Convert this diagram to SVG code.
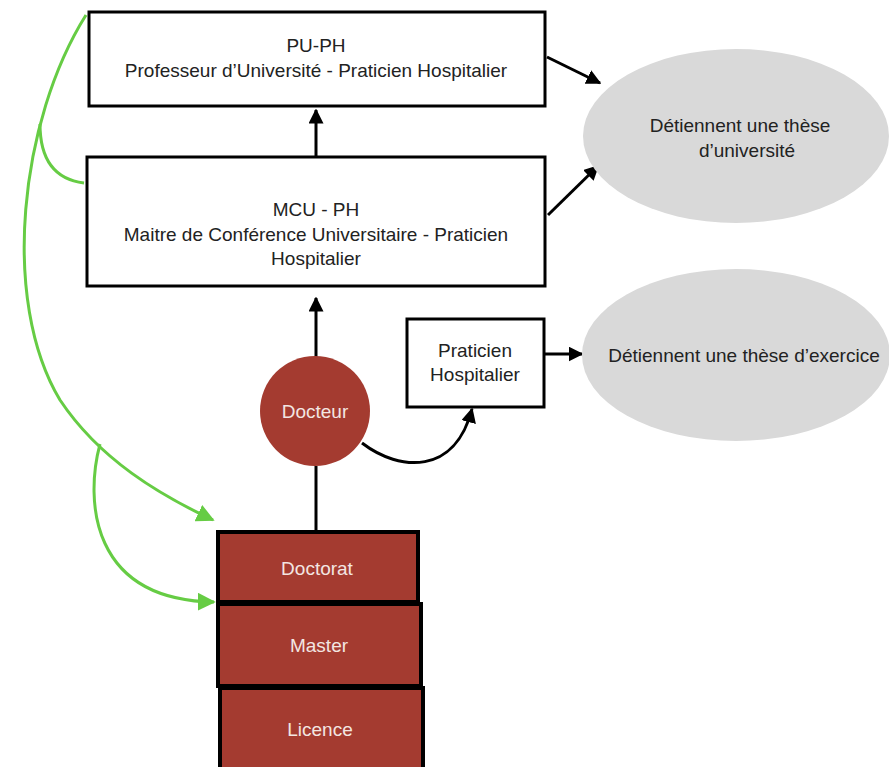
<svg xmlns="http://www.w3.org/2000/svg" width="889" height="767" viewBox="0 0 889 767">
<defs>
<marker id="ab" viewBox="0 0 10 10" refX="9" refY="5" markerWidth="5" markerHeight="5" orient="auto" markerUnits="strokeWidth"><path d="M0,0 L10,5 L0,10 z" fill="#000"/></marker>
<marker id="ag" viewBox="0 0 10 10" refX="9" refY="5" markerWidth="6" markerHeight="6" orient="auto" markerUnits="strokeWidth"><path d="M0,0 L10,5 L0,10 z" fill="#66cc44"/></marker>
<style>
.box{fill:#fff;stroke:#000;stroke-width:3}
.red{fill:#a43b30;stroke:#000;stroke-width:4}
.ell{fill:#d9d9d9}
.t{font-family:"Liberation Sans",Arial,sans-serif;font-size:19px;fill:#222;text-anchor:middle}
.w{font-family:"Liberation Sans",Arial,sans-serif;font-size:19px;fill:#f3e6e2;text-anchor:middle}
.c{fill:none;stroke:#000;stroke-width:3}
.g{fill:none;stroke:#66cc44;stroke-width:3}
</style>
</defs>
<rect width="889" height="767" fill="#fff"/>
<g id="connectors">
<path class="c" d="M316 157 L316 110" marker-end="url(#ab)"/>
<path class="c" d="M316 357 L316 298" marker-end="url(#ab)"/>
<path class="c" d="M316 531 L316 466"/>
<path class="c" d="M362 443 C400 472 455 475 472 409" marker-end="url(#ab)"/>
<path class="c" d="M547 57 L600 83" marker-end="url(#ab)"/>
<path class="c" d="M548 215 L598 166" marker-end="url(#ab)"/>
<path class="c" d="M545 354 L582 354" marker-end="url(#ab)"/>
<path class="g" d="M86 15 C20 120 0 300 60 400 C100 460 160 495 213 520" marker-end="url(#ag)"/>
<path class="g" d="M40 124 C40 165 60 180 84 183"/>
<path class="g" d="M100 444 C85 500 90 600 214 602" marker-end="url(#ag)"/>
</g>
<g id="ellipse-universite">
<ellipse class="ell" cx="736" cy="136" rx="153" ry="87"/>
<text class="t" x="740" y="132">Détiennent une thèse</text>
<text class="t" x="747" y="157">d’université</text>
</g>
<g id="ellipse-exercice">
<ellipse class="ell" cx="736" cy="355" rx="154" ry="86"/>
<text class="t" x="744" y="362">Détiennent une thèse d’exercice</text>
</g>
<g id="pu-ph">
<rect class="box" x="89" y="12" width="456" height="94"/>
<text class="t" x="316" y="52">PU-PH</text>
<text class="t" x="316" y="77">Professeur d’Université - Praticien Hospitalier</text>
</g>
<g id="mcu-ph">
<rect class="box" x="87" y="157" width="458" height="129"/>
<text class="t" x="316" y="216">MCU - PH</text>
<text class="t" x="316" y="241">Maitre de Conférence Universitaire - Praticien</text>
<text class="t" x="316" y="265">Hospitalier</text>
</g>
<g id="praticien">
<rect class="box" x="407" y="319" width="137" height="88"/>
<text class="t" x="475" y="357">Praticien</text>
<text class="t" x="475" y="381">Hospitalier</text>
</g>
<g id="docteur">
<circle cx="315" cy="411" r="55" fill="#a43b30"/>
<text class="w" x="315" y="418">Docteur</text>
</g>
<g id="doctorat">
<rect class="red" x="218" y="532" width="200" height="70"/>
<text class="w" x="317" y="575">Doctorat</text>
</g>
<g id="master">
<rect class="red" x="218" y="604" width="203" height="82"/>
<text class="w" x="319" y="652">Master</text>
</g>
<g id="licence">
<rect class="red" x="220" y="688" width="203" height="90"/>
<text class="w" x="320" y="736">Licence</text>
</g>
</svg>
